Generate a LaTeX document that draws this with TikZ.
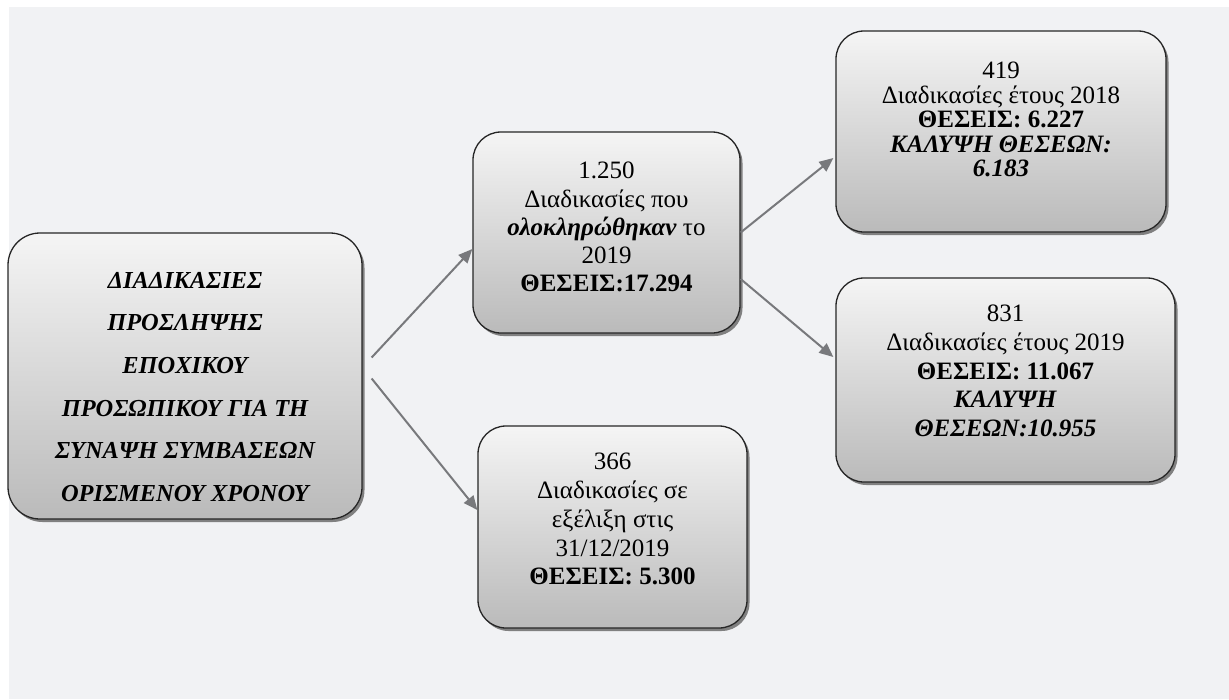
\documentclass[tikz,border=0pt]{standalone}
\usepackage{fontspec}
\setmainfont{Liberation Serif}
\usetikzlibrary{arrows.meta,shadows}
\definecolor{bgcol}{RGB}{241,242,244}
\definecolor{arrcol}{RGB}{120,121,124}
\tikzset{
  box/.style={draw=black!85, line width=1.3pt, rounded corners=28pt,
    top color=white!96!black, bottom color=black!27,
    drop shadow={shadow xshift=2.5pt, shadow yshift=-3pt, fill=black!50, opacity=1},
    inner sep=0pt},
  txt/.style={align=center, anchor=north, inner sep=0pt, font=\fontsize{25}{28.5}\selectfont},
  maintxt/.style={align=center, anchor=north, inner sep=0pt, font=\fontsize{24.4}{42.6}\selectfont\bfseries\itshape},
  conn/.style={arrcol, line width=2pt, -{Triangle[length=14pt,width=12pt]}},
}
\begin{document}
\begin{tikzpicture}[x=1pt,y=-1pt]
\useasboundingbox (0,0) rectangle (1229,699);
\fill[bgcol] (9,7) rectangle (1229,699);

% boxes
\node[box, rounded corners=32pt, minimum width=354pt, minimum height=286pt] (main) at (185,376) {};
\node[box, minimum width=267pt, minimum height=201pt] (B) at (606.5,232.5) {};
\node[box, minimum width=330pt, minimum height=201pt] (C) at (1001,131.5) {};
\node[box, minimum width=339pt, minimum height=204pt] (D) at (1005.5,380) {};
\node[box, minimum width=269pt, minimum height=202pt] (E) at (612.5,527) {};

% texts
\node[maintxt] (maint) at (185,272) {ΔΙΑΔΙΚΑΣΙΕΣ\\ΠΡΟΣΛΗΨΗΣ\\ΕΠΟΧΙΚΟΥ\\ΠΡΟΣΩΠΙΚΟΥ ΓΙΑ ΤΗ\\ΣΥΝΑΨΗ ΣΥΜΒΑΣΕΩΝ\\ΟΡΙΣΜΕΝΟΥ ΧΡΟΝΟΥ};
\node[txt, font=\fontsize{25}{28.25}\selectfont] (Bt) at (606.5,162) {1.250\\Διαδικασίες που\\\textbf{\textit{ολοκληρώθηκαν}} το\\2019\\\textbf{ΘΕΣΕΙΣ:17.294}};
\node[txt, font=\fontsize{25}{24.5}\selectfont] (Ct) at (1001,62) {419\\Διαδικασίες έτους 2018\\\textbf{ΘΕΣΕΙΣ: 6.227}\\\textbf{\textit{ΚΑΛΥΨΗ ΘΕΣΕΩΝ:}}\\\textbf{\textit{6.183}}};
\node[txt, font=\fontsize{25}{28.7}\selectfont] (Dt) at (1005.5,305) {831\\Διαδικασίες έτους 2019\\\textbf{ΘΕΣΕΙΣ: 11.067}\\\textbf{\textit{ΚΑΛΥΨΗ}}\\\textbf{\textit{ΘΕΣΕΩΝ:10.955}}};
\node[txt, font=\fontsize{25}{28.75}\selectfont] (Et) at (612.5,453) {366\\Διαδικασίες σε\\εξέλιξη στις\\31/12/2019\\\textbf{ΘΕΣΕΙΣ: 5.300}};

% connectors
\coordinate (m1) at ([shift={(9pt,18.5pt)}]main.east);
\coordinate (m2) at ([shift={(9pt,-2.5pt)}]main.east);
\draw[conn] (m1) -- ([yshift=-16.5pt]B.west);
\draw[conn] (m2) -- ([yshift=17pt]E.west);
\draw[conn] (B.east) -- ([shift={(-2pt,-26.5pt)}]C.west);
\draw[conn] ([yshift=-46.5pt]B.east) -- ([shift={(-2pt,23pt)}]D.west);
\end{tikzpicture}
\end{document}
